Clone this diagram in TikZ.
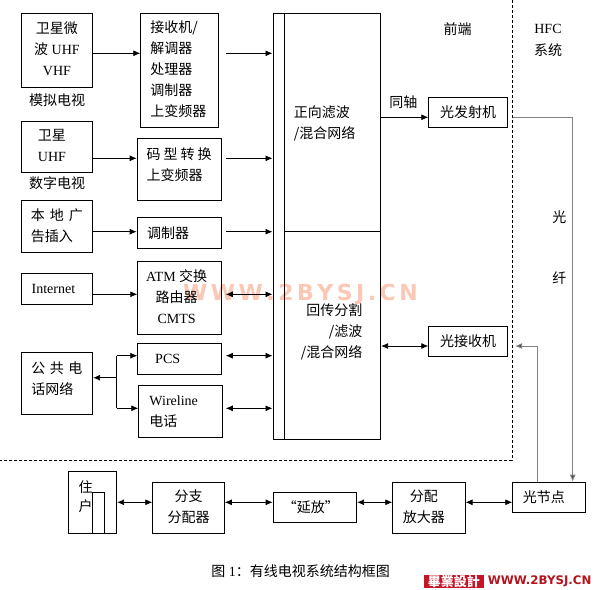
\documentclass[tikz,border=0pt]{standalone}
\usepackage{fontspec}
\setmainfont{Liberation Serif}
\newfontfamily\cjk{Noto Sans CJK SC}
\newfontfamily\cjktc{Noto Sans CJK TC}
\newfontfamily\dvb{DejaVu Sans}
\usetikzlibrary{arrows.meta,calc}
\definecolor{wmark}{RGB}{250,200,180}
\definecolor{logored}{RGB}{200,20,40}
\definecolor{logodark}{RGB}{180,20,30}
\definecolor{fibre}{RGB}{130,130,130}
\newcommand\zh[1]{{\cjk #1}}
\newcommand\mv[3]{\raisebox{#2}[\height][\depth]{\hspace*{#1}#3\hspace*{-#1}}}
\newcommand\tabL[1]{\begin{tabular}{@{}l@{}}#1\end{tabular}}
\newcommand\tabC[1]{\begin{tabular}{@{}c@{}}#1\end{tabular}}
\newcommand\tabR[1]{\begin{tabular}{@{}r@{}}#1\end{tabular}}
\begin{document}
\begin{tikzpicture}[x=1pt,y=-1pt,
  box/.style={draw,line width=0.8pt,inner sep=0pt,anchor=north west,font=\fontsize{14}{21}\selectfont},
  lbl/.style={inner sep=0pt,font=\fontsize{14}{21}\selectfont\cjk},
  arr/.style={line width=0.8pt,-{Latex[length=7pt,width=6pt]}},
  darr/.style={line width=0.8pt,{Latex[length=7pt,width=6pt]}-{Latex[length=7pt,width=6pt]}},
  fiber/.style={line width=0.8pt,draw=fibre,-{Latex[length=7pt,width=6pt,fill=fibre!60!black]}},
  ]
\useasboundingbox (0,0) rectangle (594,589);
\fill[white] (0,0) rectangle (594,589);

% watermark
\node[inner sep=0pt,anchor=west,text=wmark,font=\dvb\bfseries\fontsize{22}{22}\selectfont] (wm) at (183,295)
  {W\hspace{3.5pt}W\hspace{3.5pt}W\hspace{3.5pt}.\hspace{3.5pt}2\hspace{3.5pt}B\hspace{3.5pt}Y\hspace{3.5pt}S\hspace{3.5pt}J\hspace{3.5pt}.\hspace{3.5pt}C\hspace{3.5pt}N};

% left column
\node[box,minimum width=71.6pt,minimum height=73.4pt] (a1) at (20.7,13.3) {\tabC{\zh{卫星微}\\\zh{波} UHF\\VHF}};
\node[lbl] (lb1) at (57,100) {模拟电视};
\node[box,minimum width=71.6pt,minimum height=51.6pt] (a2) at (20.7,120.7) {\mv{-5pt}{0pt}{\tabC{\zh{卫星}\\UHF}}};
\node[lbl] (lb2) at (57,183) {数字电视};
\node[box,minimum width=71.6pt,minimum height=52.3pt] (a3) at (20.7,200) {\tabL{\zh{本\hspace{5pt}地\hspace{5pt}广}\\\zh{告插入}}};
\node[box,minimum width=71.6pt,minimum height=30.7pt] (inet) at (20.7,273.3) {\mv{-3.5pt}{0pt}{Internet}};
\node[box,minimum width=71.6pt,minimum height=62.3pt] (phone) at (20.7,351.7) {\mv{0pt}{3pt}{\tabL{\zh{公\hspace{4.5pt}共\hspace{4.5pt}电}\\\zh{话网络}}}};

% second column
\node[box,minimum width=78pt,minimum height=114pt] (b1) at (140.3,13.3) {\mv{-1.3pt}{0pt}{\tabL{\zh{接收机/}\\\zh{解调器}\\\zh{处理器}\\\zh{调制器}\\\zh{上变频器}}}};
\node[box,minimum width=84pt,minimum height=61.7pt] (b2) at (136.7,138.3) {\mv{0pt}{4pt}{\tabL{\zh{码\hspace{3pt}型\hspace{3pt}转\hspace{3pt}换}\\\zh{上变频器}}}};
\node[box,minimum width=84pt,minimum height=31.6pt] (b3) at (136.7,216.7) {\mv{-11pt}{0pt}{\zh{调制器}}};
\node[box,minimum width=84pt,minimum height=73.3pt] (atm) at (137.3,261) {\mv{-3pt}{0pt}{\tabC{ATM \zh{交换}\\\zh{路由器}\\CMTS}}};
\node[box,minimum width=84pt,minimum height=30.7pt] (pcs) at (137.3,343.3) {\mv{-12pt}{0pt}{PCS}};
\node[box,minimum width=84pt,minimum height=52.3pt] (wire) at (138.3,385) {\mv{-7pt}{0pt}{\tabL{Wireline\\\zh{电话}}}};

% combining network
\node[box,minimum width=11.8pt,minimum height=425.7pt] (strip) at (272.5,13.3) {};
\node[box,minimum width=96pt,minimum height=218pt] (fwd) at (284.3,13.3) {\mv{-8pt}{-1.5pt}{\tabL{\zh{正向滤波}\\\zh{/混合网络}}}};
\node[box,minimum width=96pt,minimum height=207.7pt] (ret) at (284.3,231.3) {\mv{-1pt}{3.7pt}{\tabR{\zh{回传分割}\\\zh{/滤波}\hspace{5pt}\\\zh{/混合网络}}}};

% optical
\node[box,minimum width=79pt,minimum height=30.6pt] (tx) at (428.3,96.7) {\zh{光发射机}};
\node[box,minimum width=79pt,minimum height=30.3pt] (rx) at (428.3,325.7) {\zh{光接收机}};
\node[lbl] (lqd) at (457.7,29) {前端};
\node[lbl,font=\fontsize{14}{21}\selectfont\rmfamily] (lhfc) at (548,29) {HFC};
\node[lbl] (lsys) at (548,50) {系统};
\node[lbl] (lcoax) at (403.3,101.7) {同轴};
\node[lbl] (lg1) at (559.3,216.7) {光};
\node[lbl] (lg2) at (559.3,278.3) {纤};

% bottom chain
\node[box,minimum width=48pt,minimum height=62.6pt] (home) at (68.3,470.7) {\mv{-7pt}{4.5pt}{\tabC{\zh{住}\\[-2.6pt]\zh{户}}}};
\node[box,fill=white,minimum width=12pt,minimum height=41.6pt] (homein) at (92.3,491.7) {};
\node[box,minimum width=71.7pt,minimum height=51.6pt] (spl) at (152.3,481.7) {\tabC{\zh{分支}\\\zh{分配器}}};
\node[box,minimum width=83.6pt,minimum height=30.3pt] (ext) at (272.7,491.7) {\mv{-4pt}{0pt}{\zh{“延放”}}};
\node[box,minimum width=72.4pt,minimum height=51.6pt] (amp) at (392.3,481.7) {\mv{-5pt}{0pt}{\tabC{\zh{分配}\\\zh{放大器}}}};
\node[box,minimum width=72.4pt,minimum height=30.6pt] (onode) at (512.3,481.7) {\mv{-5pt}{0pt}{\zh{光节点}}};

% caption
\node[inner sep=0pt,font=\fontsize{14}{21}\selectfont] (cap) at (300.7,571) {\zh{图} 1\zh{：有线电视系统结构框图}};

% logo
\node[fill=logored,inner sep=0pt,minimum width=59.3pt,minimum height=13.3pt,anchor=north west,text=white,font=\cjktc\bfseries\fontsize{13}{13}\selectfont] (logo1) at (424,574.5) {畢業設計};
\node[inner sep=0pt,anchor=west,text=logodark,font=\dvb\bfseries\fontsize{11.8}{12}\selectfont] (logo2) at (487.7,581) {WWW.2BYSJ.CN};

% row coordinates
\coordinate (y1) at (0,53.3);
\coordinate (y2) at (0,158.3);
\coordinate (y3) at (0,231.7);
\coordinate (y4) at (0,294.3);
\coordinate (y5) at (0,355.7);
\coordinate (y6) at (0,408.3);
\coordinate (y7) at (0,117.3);
\coordinate (y8) at (0,346);
\coordinate (yb) at (0,502.3);
\coordinate (brp) at (116.7,377.7);

% connectors
\draw[arr] (a1.east|-y1) -- (b1.west|-y1);
\draw[arr] ($(b1.east|-y1)+(6.7,0)$) -- (strip.west|-y1);
\draw[arr] (a2.east|-y2) -- (b2.west|-y2);
\draw[arr] ($(b2.east|-y2)+(4.3,0)$) -- (strip.west|-y2);
\draw[arr] (a3.east|-y3) -- (b3.west|-y3);
\draw[arr] ($(b3.east|-y3)+(4.3,0)$) -- (strip.west|-y3);
\draw[arr] (inet.east|-y4) -- (atm.west|-y4);
\draw[darr] ($(atm.east|-y4)+(3.7,0)$) -- (strip.west|-y4);
\draw[arr] (brp) -- (phone.east|-brp);
\draw[line width=0.8pt] (brp|-y5) -- (brp|-y6);
\draw[arr] (brp|-y5) -- (pcs.west|-y5);
\draw[arr] (brp|-y6) -- (wire.west|-y6);
\draw[darr] ($(pcs.east|-y5)+(3.7,0)$) -- (strip.west|-y5);
\draw[darr] ($(wire.east|-y6)+(2.7,0)$) -- (strip.west|-y6);
\draw[arr] (fwd.east|-y7) -- (tx.west|-y7);
\draw[darr] (ret.east|-y8) -- (rx.west|-y8);

% fibre
\draw[fiber] ($(tx.east|-y7)+(5,0)$) -| ($(onode.north)+(23.8,0)$);
\draw[fiber] ($(onode.north)+(-11.8,0)$) |- ($(rx.east|-y8)+(7,0)$);

% bottom chain connectors
\draw[darr] (home.east|-yb) -- (spl.west|-yb);
\draw[darr] (spl.east|-yb) -- (ext.west|-yb);
\draw[darr] (ext.east|-yb) -- (amp.west|-yb);
\draw[darr] (amp.east|-yb) -- (onode.west|-yb);

% boundary
\draw[line width=0.8pt,dash pattern=on 3pt off 2pt] (512.3,0) -- (512.3,460) -- (0,460);
\end{tikzpicture}
\end{document}
